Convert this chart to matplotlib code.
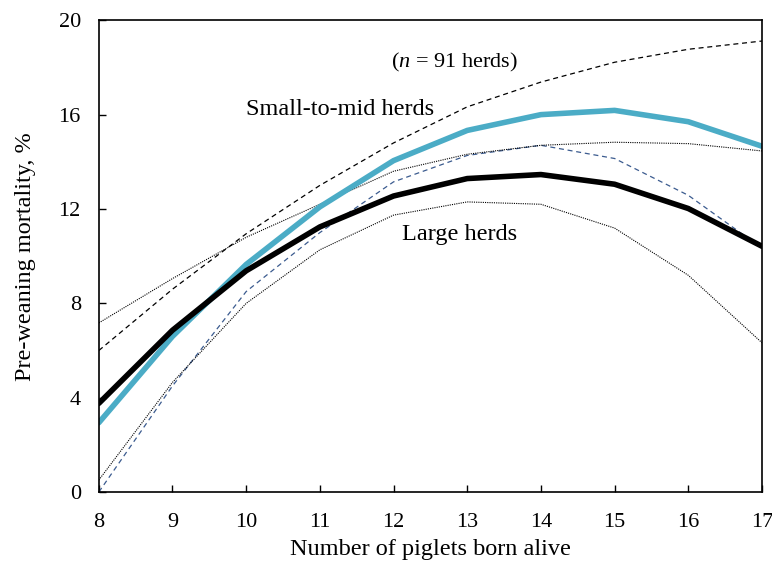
import matplotlib
matplotlib.use("Agg")
import matplotlib.pyplot as plt

plt.rcParams['font.family'] = ['Liberation Serif', 'DejaVu Serif']
plt.rcParams['mathtext.fontset'] = 'custom'
plt.rcParams['mathtext.it'] = 'Liberation Serif:italic'
plt.rcParams['mathtext.rm'] = 'Liberation Serif'

# Number of piglets born alive
piglets = [8, 9, 10, 11, 12, 13, 14, 15, 16, 17]

# Small-to-mid herds: estimate and bounds
small_mid = [2.94, 6.6, 9.65, 12.09, 14.05, 15.33, 16.0, 16.18, 15.7, 14.66]
small_mid_upper = [6.0, 8.6, 10.95, 13.0, 14.8, 16.33, 17.38, 18.22, 18.77, 19.12]
small_mid_lower = [0.0, 4.5, 8.5, 11.0, 13.15, 14.27, 14.7, 14.14, 12.58, 10.34]

# Large herds: estimate and bounds
large = [3.76, 6.86, 9.38, 11.24, 12.55, 13.29, 13.46, 13.05, 12.02, 10.42]
large_upper = [7.17, 9.05, 10.8, 12.2, 13.6, 14.32, 14.7, 14.83, 14.77, 14.46]
large_lower = [0.51, 4.65, 8.0, 10.27, 11.74, 12.3, 12.2, 11.19, 9.19, 6.33]

fig, ax = plt.subplots(figsize=(7.72, 5.63), dpi=100)
fig.subplots_adjust(left=0.128, right=0.987, top=0.964, bottom=0.126)

# Confidence bounds
ax.plot(piglets, small_mid_upper, color='black', linestyle=(0, (4, 3)), linewidth=0.9)
ax.plot(piglets, small_mid_lower, color='#3b5b8f', linestyle=(0, (4, 3)), linewidth=0.9)
ax.plot(piglets, large_upper, color='black', linestyle=(0, (1, 1)), linewidth=0.8)
ax.plot(piglets, large_lower, color='black', linestyle=(0, (1, 1)), linewidth=0.8)

# Estimates
ax.plot(piglets, small_mid, color='#4bacc6', linewidth=4.0, solid_capstyle='round')
ax.plot(piglets, large, color='black', linewidth=4.0, solid_capstyle='round')

ax.text(12.83, 18.2, r'($\mathit{n}$ = 91 herds)', fontsize=16, ha='center', va='center')
ax.text(11.27, 16.2, 'Small-to-mid herds', fontsize=17.5, ha='center', va='center')
ax.text(12.9, 10.9, 'Large herds', fontsize=17.5, ha='center', va='center')

ax.set_xlim(8, 17)
ax.set_ylim(0, 20)
ax.set_xticks(piglets)
ax.set_yticks([0, 4, 8, 12, 16, 20])
ax.tick_params(direction='in', labelsize=16, length=5, width=1)
ax.tick_params(axis='x', pad=15)
ax.tick_params(axis='y', pad=13)
for s in ax.spines.values():
    s.set_linewidth(1.2)

ax.set_xlabel('Number of piglets born alive', fontsize=17.5, labelpad=5)
ax.set_ylabel('Pre-weaning mortality, %', fontsize=17.5, labelpad=16)

fig.savefig('out.png', dpi=100)
